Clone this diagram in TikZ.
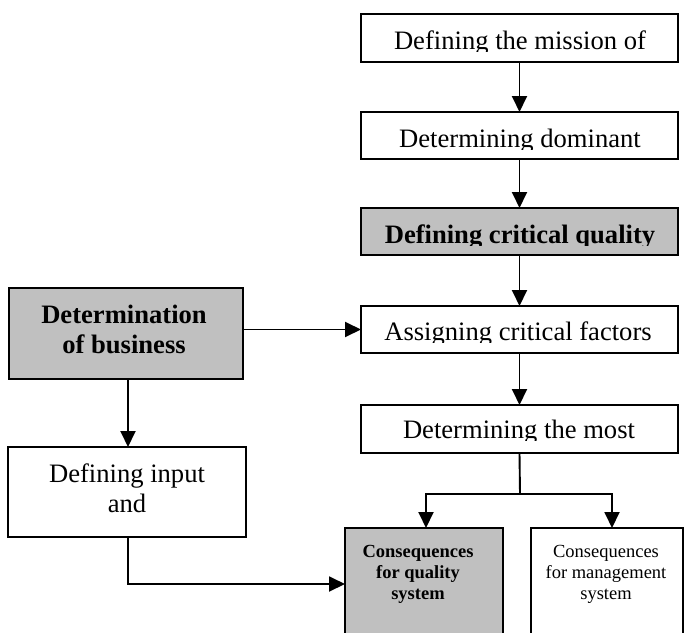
\documentclass[tikz,border=0pt]{standalone}
\usepackage{fontspec}
\setmainfont{Liberation Serif}
\usetikzlibrary{arrows.meta}
\definecolor{boxgray}{RGB}{192,192,192}
\begin{document}
\begin{tikzpicture}[x=1pt,y=-1pt,
  box/.style={draw=black, line width=1.9pt, inner sep=0pt, outer sep=0pt},
  grayfill/.style={fill=boxgray},
  big/.style={font=\fontsize{26.6}{30.6}\selectfont, inner sep=0pt, anchor=base},
  bigb/.style={font=\fontsize{26.6}{30.6}\selectfont\bfseries, inner sep=0pt, anchor=base},
  small/.style={font=\fontsize{18.5}{21}\selectfont, inner sep=0pt, anchor=base, align=center},
  smallb/.style={small, font=\fontsize{18.5}{21}\selectfont\bfseries},
  arr/.style={line width=1.9pt, -{Triangle[width=15pt,length=16pt]}},
  ln/.style={line width=1.9pt}]
\useasboundingbox (0,0) rectangle (685,632);
\clip (0,0) rectangle (685,632);

% boxes
\node[box, minimum width=317pt, minimum height=48pt] (b1) at (519.5,38) {};
\node[box, minimum width=317pt, minimum height=47pt] (b2) at (519.5,135.5) {};
\node[box, grayfill, minimum width=317pt, minimum height=47pt] (b3) at (519.5,231.5) {};
\node[box, minimum width=317pt, minimum height=47pt] (b4) at (519.5,329.5) {};
\node[box, minimum width=317pt, minimum height=48pt] (b5) at (519.5,429) {};
\node[box, grayfill, minimum width=234pt, minimum height=91pt] (l1) at (126,333.5) {};
\node[box, minimum width=238pt, minimum height=90pt] (l2) at (127,492) {};
\node[box, grayfill, minimum width=158pt, minimum height=112pt] (q) at (424,584) {};
\node[box, minimum width=152pt, minimum height=112pt] (m) at (607,584) {};

% texts (clipped as in the reference)
\begin{scope}\clip (361,14) rectangle (678,51);
\node[big] (t1) at (520,49) {Defining the mission of};
\end{scope}
\begin{scope}\clip (361,112) rectangle (678,149);
\node[big] (t2) at (520,147) {Determining dominant};
\end{scope}
\begin{scope}\clip (361,208) rectangle (678,245);
\node[bigb] (t3) at (520,243) {Defining critical quality};
\end{scope}
\begin{scope}\clip (361,306) rectangle (678,342);
\node[big] (t4) at (518,340) {Assigning critical factors};
\end{scope}
\begin{scope}\clip (361,405) rectangle (678,440);
\node[big] (t5) at (519,438) {Determining the most};
\end{scope}
\node[bigb] (tl1a) at (124,323) {Determination};
\node[bigb] (tl1b) at (124,353) {of business};
\node[big] (tl2a) at (127,482) {Defining input};
\node[big] (tl2b) at (127,512) {and};
\node[smallb] (tqa) at (418,557) {Consequences};
\node[smallb] (tqb) at (418,578) {for quality};
\node[smallb] (tqc) at (418,599) {system};
\node[small] (tma) at (606,557) {Consequences};
\node[small] (tmb) at (606,578) {for management};
\node[small] (tmc) at (606,599) {system};

% connectors
\draw[arr] (b1) -- (b2);
\draw[arr] (b2) -- (b3);
\draw[arr] (b3) -- (b4);
\draw[arr] (b4) -- (b5);
\draw[arr] (l1.east |- b4.west) -- (b4.west);
\draw[arr] ([xshift=2pt]l1.south) -- ([xshift=1pt]l2.north);
\coordinate (sp) at (520,494);
\draw[ln] (b5.south) -- (sp);
\draw[arr] (sp) -| ([xshift=2pt]q.north);
\draw[arr] (sp) -| ([xshift=5pt]m.north);
\draw[arr] ([xshift=1pt]l2.south) |- (q.west);
\end{tikzpicture}
\end{document}
